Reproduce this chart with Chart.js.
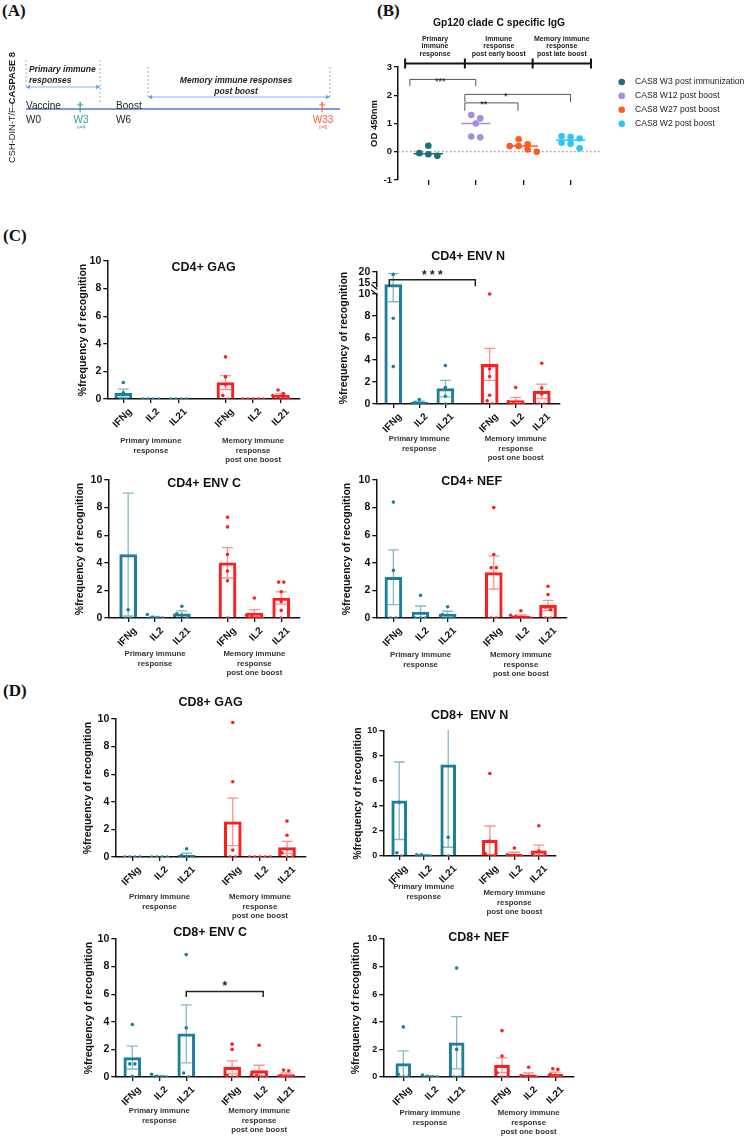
<!DOCTYPE html>
<html lang="en">
<head>
<meta charset="UTF-8">
<title>CASPASE 8 vaccine immune responses</title>
<style>
  body { margin: 0; width: 753px; height: 1138px; position: relative; overflow: hidden; background: #fff; }
  .panel { position: absolute; }
  .tag { position: absolute; font: bold 17px "Liberation Serif", "Times New Roman", serif; line-height: 1; color: #111; }
</style>
<script src="https://cdn.jsdelivr.net/npm/chart.js"></script>
</head>
<body>
<div class="tag" style="left:2px;top:2px">(A)</div>
<div class="tag" style="left:377px;top:2px">(B)</div>
<div class="tag" style="left:3px;top:227px">(C)</div>
<div class="tag" style="left:3px;top:682px">(D)</div>
<canvas id="panelA" class="panel"></canvas>
<canvas id="panelB" class="panel"></canvas>
<canvas id="cd4Gag" class="panel"></canvas>
<canvas id="cd4EnvN" class="panel"></canvas>
<canvas id="cd4EnvC" class="panel"></canvas>
<canvas id="cd4Nef" class="panel"></canvas>
<canvas id="cd8Gag" class="panel"></canvas>
<canvas id="cd8EnvN" class="panel"></canvas>
<canvas id="cd8EnvC" class="panel"></canvas>
<canvas id="cd8Nef" class="panel"></canvas>
<script>
// ---------- (A) timeline ----------
const timelineWeeks = [0, 3, 6, 33];
const timelineAbove = ['Vaccine', '†', 'Boost', '†'];
const timelineBelow = ['W0', 'W3', 'W6', 'W33'];
const timelineN = ['', 'n=4', '', 'n=6'];
const timelineColors = ['#222', '#27a399', '#222', '#ff5a36'];
const phaseNames = [['Primary immune', 'responses'], ['Memory immune responses', 'post boost']];
const phaseStart = [0, 10.2];
const phaseEnd = [4.67, 34.05];

// ---------- (B) Gp120 IgG ----------
const igGroups = ['CAS8 W3 post immunization', 'CAS8 W12 post boost', 'CAS8 W27 post boost', 'CAS8 W2 post boost'];
const igValues = [
  [0.21, -0.05, -0.09, -0.14],
  [1.3, 1.18, 1.0, 0.54, 0.51],
  [0.44, 0.26, 0.2, 0.2, 0.08, 0.0],
  [0.55, 0.52, 0.47, 0.32, 0.28, 0.12]
];
const igMedians = [-0.07, 1.0, 0.2, 0.41];
const igYTicks = [-1, 0, 1, 2, 3];
const igHeaders = [['Primary', 'immune', 'response'], ['Immune', 'response', 'post early boost'], ['Memory immune', 'response', 'post late boost']];
const igBrackets = [
  { from: -0.39, to: 1.0, y: 2.56, drop: 2.32, label: '***', at: 0.25 },
  { from: 0.77, to: 3.0, y: 2.03, drop: 1.76, label: '*', at: 1.63 },
  { from: 0.77, to: 1.89, y: 1.73, drop: 1.45, label: '**', at: 1.17 }
];

// ---------- (C)/(D) T cell recognition ----------
const cytokines = ['IFNg', 'IL2', 'IL21', 'IFNg', 'IL2', 'IL21'];
const responseGroups = [['Primary immune', 'response'], ['Memory immune', 'response', 'post one boost']];
const yTicks = [0, 2, 4, 6, 8, 10];
const envNTicks = [0, 2, 4, 6, 8, 10, 15, 20];

const cd4GagMean = [0.41, 0, 0, 1.19, 0, 0.27];
const cd4GagSem = [0.3, 0, 0, 0.5, 0, 0.1];
const cd4GagPoints = [[1.2, 0.45, 0, 0], [0, 0, 0, 0], [0, 0, 0, 0], [3.05, 1.6, 1.05, 0.25, 0], [0, 0, 0, 0, 0], [0.65, 0.4, 0.25, 0.15, 0.1, 0.05]];

const cd4EnvNMean = [14.3, 0.15, 1.4, 3.6, 0.3, 1.15];
const cd4EnvNSem = [5.0, 0.1, 0.75, 1.45, 0.3, 0.65];
const cd4EnvNPoints = [[18.9, 7.8, 3.4], [0.4, 0.1, 0, 0], [3.5, 1.5, 0.7, 0], [10, 3.2, 2.5, 0.8, 0.3, 0], [1.5, 0.2, 0.1, 0, 0], [3.7, 1.45, 0.9, 0, 0]];
const cd4EnvNBracket = { from: -0.15, to: 3.15, y: 16.5, drop: 13.5, label: '* * *' };

const cd4EnvCMean = [4.6, 0.05, 0.3, 4.0, 0.36, 1.45];
const cd4EnvCSem = [4.45, 0.06, 0.22, 1.1, 0.25, 0.45];
const cd4EnvCPoints = [[0.6, 0, 0], [0.25, 0.05, 0, 0], [0.85, 0.3, 0.2, 0], [7.3, 6.6, 4.6, 3.4, 2.7, 0], [1.45, 0.2, 0.1, 0, 0], [2.6, 2.6, 1.9, 1.2, 0.55, 0]];

const cd4NefMean = [2.95, 0.43, 0.29, 3.3, 0.15, 0.91];
const cd4NefSem = [1.98, 0.44, 0.2, 1.2, 0.08, 0.37];
const cd4NefPoints = [[8.4, 3.45, 0, 0], [1.64, 0, 0, 0], [0.82, 0.25, 0, 0], [8.0, 4.6, 3.65, 3.65, 0, 0], [0.53, 0.2, 0.1, 0, 0, 0], [2.3, 1.7, 0.8, 0.6, 0, 0]];

const cd8GagMean = [0, 0, 0.12, 2.55, 0, 0.68];
const cd8GagSem = [0, 0, 0.15, 1.72, 0, 0.45];
const cd8GagPoints = [[0, 0, 0, 0], [0, 0, 0, 0], [0.6, 0.1, 0, 0], [9.75, 5.45, 0.5, 0, 0], [0, 0, 0, 0, 0], [2.6, 1.58, 0.3, 0, 0]];

const cd8EnvNMean = [4.42, 0.05, 7.3, 1.25, 0.15, 0.42];
const cd8EnvNSem = [3.1, 0.05, 6.6, 1.15, 0.15, 0.45];
const cd8EnvNPoints = [[4.3, 0.26, 0], [0.1, 0.1, 0, 0], [1.5, 0], [6.6, 1.2, 0.2, 0, 0], [0.64, 0.1, 0, 0, 0], [2.42, 0.4, 0, 0, 0]];

const cd8EnvCMean = [1.41, 0.05, 3.13, 0.7, 0.46, 0.17];
const cd8EnvCSem = [0.83, 0.05, 2.1, 0.47, 0.39, 0.13];
const cd8EnvCPoints = [[3.8, 0.95, 0.95, 0.05], [0.2, 0.05, 0, 0], [8.87, 3.56, 0.29, 0], [2.38, 2.0, 0.1, 0, 0], [2.3, 0.15, 0.1, 0, 0], [0.5, 0.45, 0.1, 0, 0]];
const cd8EnvCBracket = { from: 2, to: 4.85, y: 6.2, drop: 5.8, label: '*' };

const cd8NefMean = [0.97, 0.05, 2.48, 0.85, 0.15, 0.2];
const cd8NefSem = [0.93, 0.05, 1.89, 0.53, 0.15, 0.15];
const cd8NefPoints = [[3.63, 0.2, 0, 0], [0.15, 0.05, 0, 0], [7.89, 2.0, 0, 0], [3.36, 1.52, 0.3, 0, 0], [0.71, 0.1, 0, 0, 0], [0.6, 0.55, 0.2, 0, 0]];

// ---------- styling / layout ----------
const FONT = "'Liberation Sans', Arial, sans-serif";
const teal = '#1d7f9b', tealSoft = 'rgba(29,127,155,0.55)';
const red = '#ff1e1e', redSoft = 'rgba(255,30,30,0.5)';
const igColors = ['#1a6f79', '#a58ee0', '#ff5b1e', '#2bc6f4'];
const slotX = [0, 1, 2, 3.7, 4.7, 5.7];
const igHeaderEdges = [-0.49, 0.77, 2.2, 3.43];

Chart.defaults.font.family = FONT;
Chart.defaults.color = '#111';
Chart.defaults.animation = false;
Chart.defaults.events = [];
Chart.defaults.plugins.legend.display = false;
Chart.defaults.plugins.tooltip.enabled = false;

// linear scale with piecewise value -> position mapping (broken axis, schematic timeline)
class PiecewiseScale extends Chart.LinearScale {
  _toDecimal(v) {
    const s = this.options.stops;
    let i = 1;
    while (i < s.length - 1 && v > s[i][0]) i++;
    const [v0, d0] = s[i - 1], [v1, d1] = s[i];
    return d0 + (v - v0) * (d1 - d0) / (v1 - v0);
  }
  getPixelForValue(v) {
    return v === null ? NaN : this.getPixelForDecimal(this._toDecimal(v));
  }
  getValueForPixel(p) {
    const d = this.getDecimalForPixel(p), s = this.options.stops;
    let i = 1;
    while (i < s.length - 1 && d > s[i][1]) i++;
    const [v0, d0] = s[i - 1], [v1, d1] = s[i];
    return v0 + (d - d0) * (v1 - v0) / (d1 - d0);
  }
}
PiecewiseScale.id = 'piecewise';
PiecewiseScale.defaults = Chart.LinearScale.defaults;
Chart.register(PiecewiseScale);

function place(id, area, pad) {
  const c = document.getElementById(id);
  const [l, t, r, b] = area;
  const w = Math.round(r - l + pad.left + pad.right);
  const h = Math.round(b - t + pad.top + pad.bottom);
  c.width = w; c.height = h;
  c.style.left = (l - pad.left) + 'px';
  c.style.top = (t - pad.top) + 'px';
  c.style.width = w + 'px';
  c.style.height = h + 'px';
  return c;
}

// spread points of similar value side by side, like a column scatter
function swarm(values, tol, step) {
  const order = values.map((v, i) => i).sort((a, b) => values[b] - values[a]);
  const offs = new Array(values.length).fill(0);
  let row = [];
  const flush = () => { row.forEach((idx, j) => { offs[idx] = (j - (row.length - 1) / 2) * step; }); row = []; };
  order.forEach(i => {
    if (row.length && values[row[0]] - values[i] > tol) flush();
    row.push(i);
  });
  flush();
  return offs;
}

// ---------- (A) ----------
const timelinePlugin = {
  id: 'timelineText',
  afterDraw(chart) {
    if (chart.canvas.id !== 'panelA') return;
    const { ctx, scales: { x, y } } = chart;
    const y0 = y.getPixelForValue(0);
    ctx.save();
    ctx.translate(12, y0 + 54);
    ctx.rotate(-Math.PI / 2);
    ctx.textBaseline = 'middle';
    ctx.textAlign = 'left';
    ctx.fillStyle = '#222';
    ctx.font = `9.3px ${FONT}`;
    ctx.fillText('CSH-DIN-T/F-', 0, 0);
    const w = ctx.measureText('CSH-DIN-T/F-').width;
    ctx.font = `bold 9.3px ${FONT}`;
    ctx.fillText('CASPASE 8', w, 0);
    ctx.restore();

    ctx.save();
    const rise = [22, 12], dashTop = [49, 42];
    phaseStart.forEach((s, k) => {
      const xa = x.getPixelForValue(s), xb = x.getPixelForValue(phaseEnd[k]), ya = y0 - rise[k];
      ctx.strokeStyle = '#8db3e2';
      ctx.lineWidth = 1;
      ctx.setLineDash([2, 2]);
      ctx.beginPath();
      ctx.moveTo(xa, y0 - dashTop[k]); ctx.lineTo(xa, ya);
      ctx.moveTo(xb, y0 - dashTop[k]); ctx.lineTo(xb, k === 0 ? y0 - 7 : ya);
      ctx.stroke();
      ctx.setLineDash([]);
      ctx.beginPath(); ctx.moveTo(xa, ya); ctx.lineTo(xb, ya); ctx.stroke();
      ctx.fillStyle = '#6f9fd8';
      [[xa, 1], [xb, -1]].forEach(([hx, d]) => {
        ctx.beginPath();
        ctx.moveTo(hx, ya); ctx.lineTo(hx + 4 * d, ya - 2.2); ctx.lineTo(hx + 4 * d, ya + 2.2);
        ctx.closePath(); ctx.fill();
      });
      ctx.fillStyle = '#222';
      ctx.font = `italic bold 8.5px ${FONT}`;
      ctx.textBaseline = 'alphabetic';
      phaseNames[k].forEach((t, j) => {
        if (k === 0) { ctx.textAlign = 'left'; ctx.fillText(t, xa + 3, y0 - 37.5 + j * 11.5); }
        else { ctx.textAlign = 'center'; ctx.fillText(t, (xa + xb) / 2 - 3, y0 - 26.5 + j * 11); }
      });
    });

    ctx.textBaseline = 'alphabetic';
    timelineWeeks.forEach((wk, i) => {
      const px = x.getPixelForValue(wk);
      const dagger = timelineAbove[i] === '†';
      ctx.fillStyle = timelineColors[i];
      ctx.textAlign = dagger ? 'center' : 'left';
      ctx.font = dagger ? `bold 13px ${FONT}` : `10px ${FONT}`;
      ctx.fillText(timelineAbove[i], px, dagger ? y0 + 2 : y0 - 0.5);
      ctx.font = `10px ${FONT}`;
      ctx.fillText(timelineBelow[i], dagger ? px + 1 : px, y0 + 14);
      if (timelineN[i]) {
        ctx.font = `5px ${FONT}`;
        ctx.fillText(timelineN[i], px + 1, y0 + 19.5);
      }
    });
    ctx.restore();
  }
};

new Chart(place('panelA', [26, 49, 340, 169], { left: 26, top: 9, right: 20, bottom: 11 }), {
  type: 'line',
  data: { datasets: [{ data: [{ x: 0, y: 0 }, { x: 35.4, y: 0 }], borderColor: '#4f7ac7', borderWidth: 1.6, pointRadius: 0 }] },
  options: {
    responsive: false,
    layout: { padding: { left: 26, top: 9, right: 20, bottom: 11 } },
    scales: {
      x: { type: 'piecewise', display: false, min: 0, max: 35.4, stops: [[0, 0], [3, 0.172], [6, 0.287], [33, 0.943], [35.4, 1]] },
      y: { display: false, min: -1, max: 1 }
    }
  },
  plugins: [timelinePlugin]
});

// ---------- (B) ----------
const igPlugin = {
  id: 'igText',
  afterDraw(chart) {
    if (chart.canvas.id !== 'panelB') return;
    const { ctx, chartArea: a, scales: { x, y } } = chart;
    ctx.save();
    ctx.fillStyle = '#111';
    ctx.textAlign = 'center';
    ctx.textBaseline = 'middle';
    ctx.font = `bold 10.3px ${FONT}`;
    ctx.fillText('Gp120 clade C specific IgG', (a.left + a.right) / 2, a.top - 44);

    const hy = a.top - 3.5;
    ctx.strokeStyle = '#111';
    ctx.lineWidth = 2;
    ctx.beginPath();
    ctx.moveTo(x.getPixelForValue(igHeaderEdges[0]), hy);
    ctx.lineTo(x.getPixelForValue(igHeaderEdges[igHeaderEdges.length - 1]), hy);
    igHeaderEdges.forEach(e => { const px = x.getPixelForValue(e); ctx.moveTo(px, hy - 5); ctx.lineTo(px, hy + 5); });
    ctx.stroke();
    ctx.font = `bold 7px ${FONT}`;
    ctx.fillStyle = '#222';
    igHeaders.forEach((lines, k) => {
      const cx = (x.getPixelForValue(igHeaderEdges[k]) + x.getPixelForValue(igHeaderEdges[k + 1])) / 2;
      lines.forEach((t, j) => ctx.fillText(t, cx, a.top - 28 + j * 7.5));
    });

    ctx.strokeStyle = '#555';
    ctx.lineWidth = 1;
    igBrackets.forEach(b => {
      const x1 = x.getPixelForValue(b.from), x2 = x.getPixelForValue(b.to);
      const yl = y.getPixelForValue(b.y), yd = y.getPixelForValue(b.drop);
      ctx.beginPath();
      ctx.moveTo(x1, yd); ctx.lineTo(x1, yl); ctx.lineTo(x2, yl); ctx.lineTo(x2, yd);
      ctx.stroke();
      ctx.fillStyle = '#333';
      ctx.font = `bold 9px ${FONT}`;
      ctx.textBaseline = 'alphabetic';
      ctx.fillText(b.label, x.getPixelForValue(b.at), yl + 4.5);
    });

    ctx.textAlign = 'left';
    ctx.textBaseline = 'middle';
    ctx.font = `8.6px ${FONT}`;
    igGroups.forEach((name, g) => {
      const ly = a.top + 15 + g * 13.9;
      ctx.fillStyle = igColors[g];
      ctx.beginPath(); ctx.arc(a.right + 21.7, ly, 3.3, 0, Math.PI * 2); ctx.fill();
      ctx.fillStyle = '#222';
      ctx.fillText(name, a.right + 35, ly);
    });
    ctx.restore();
  }
};

const igDatasets = igValues.map((vals, g) => {
  const offs = swarm(vals, 0.23, 0.19);
  return { type: 'scatter', data: vals.map((v, j) => ({ x: g + offs[j], y: v })), backgroundColor: igColors[g], borderWidth: 0, pointRadius: 3.3, order: 1 };
});
igMedians.forEach((m, g) => igDatasets.push({
  type: 'line', data: [{ x: g - 0.31, y: m }, { x: g + 0.31, y: m }], borderColor: igColors[g], borderWidth: 1.5, pointRadius: 0, order: 0
}));
igDatasets.push({ type: 'line', data: [{ x: -0.64, y: 0 }, { x: 3.62, y: 0 }], borderColor: '#777', borderDash: [1.5, 2.5], borderWidth: 1.2, pointRadius: 0, order: 2 });

new Chart(place('panelB', [398, 67, 600, 180], { left: 33, top: 67, right: 153, bottom: 20 }), {
  type: 'scatter',
  data: { datasets: igDatasets },
  options: {
    responsive: false,
    layout: { padding: { left: 0, top: 67, right: 153, bottom: 0 } },
    scales: {
      x: {
        type: 'linear', min: -0.64, max: 3.62,
        afterBuildTicks: s => { s.ticks = igGroups.map((_, g) => ({ value: g })); },
        afterFit: s => { s.height = 20; s.paddingLeft = s.paddingRight = 0; },
        ticks: { display: false },
        grid: { drawOnChartArea: false, drawTicks: true, tickLength: 5, color: '#111', lineWidth: 1.3 },
        border: { display: false }
      },
      y: {
        min: -1, max: 3,
        afterBuildTicks: s => { s.ticks = igYTicks.map(v => ({ value: v })); },
        afterFit: s => { s.width = 33; s.paddingTop = s.paddingBottom = 0; },
        ticks: { font: { size: 9.5, weight: 'bold' }, color: '#111', padding: 2 },
        grid: { drawOnChartArea: false, drawTicks: true, tickLength: 4, color: '#111', lineWidth: 1.3 },
        border: { display: true, color: '#111', width: 1.5 },
        title: { display: true, text: 'OD 450nm', font: { size: 9.5, weight: 'bold' }, color: '#111', padding: { top: 4, bottom: 4 } }
      }
    }
  },
  plugins: [igPlugin]
});

// ---------- (C)/(D) ----------
const decor = {};
const recognitionPlugin = {
  id: 'recognitionDecor',
  afterDatasetsDraw(chart) {
    const p = decor[chart.canvas.id];
    if (!p) return;
    const { ctx, chartArea: a, scales: { x, y } } = chart;
    ctx.save();
    ctx.beginPath();
    ctx.rect(a.left, a.top - 1, a.right - a.left, a.bottom - a.top + 1);
    ctx.clip();
    ctx.lineWidth = 1.3;
    p.mean.forEach((m, i) => {
      const s = p.sem[i];
      if (!s) return;
      const px = x.getPixelForValue(slotX[i]);
      const hi = y.getPixelForValue(m + s), lo = y.getPixelForValue(Math.max(m - s, 0));
      ctx.strokeStyle = i < 3 ? tealSoft : redSoft;
      ctx.beginPath();
      ctx.moveTo(px, hi); ctx.lineTo(px, lo);
      ctx.moveTo(px - 5.5, hi); ctx.lineTo(px + 5.5, hi);
      if (m - s > 0) { ctx.moveTo(px - 5.5, lo); ctx.lineTo(px + 5.5, lo); }
      ctx.stroke();
    });
    ctx.restore();
  },
  afterDraw(chart) {
    const p = decor[chart.canvas.id];
    if (!p) return;
    const { ctx, chartArea: a, scales: { x, y } } = chart;
    ctx.save();
    ctx.fillStyle = '#111';
    ctx.textAlign = 'center';
    ctx.textBaseline = 'middle';
    ctx.font = `bold 12.5px ${FONT}`;
    ctx.fillText(p.title, (a.left + a.right) / 2, a.top + p.titleDy);

    ctx.font = `bold 7.8px ${FONT}`;
    ctx.fillStyle = '#333';
    responseGroups.forEach((lines, g) => {
      const cx = (x.getPixelForValue(slotX[g * 3]) + x.getPixelForValue(slotX[g * 3 + 2])) / 2;
      lines.forEach((t, k) => ctx.fillText(t, cx, a.bottom + p.groupDy[g] + k * 9.6));
    });

    if (p.bracket) {
      const b = p.bracket;
      const x1 = x.getPixelForValue(b.from), x2 = x.getPixelForValue(b.to);
      const yl = y.getPixelForValue(b.y), yd = y.getPixelForValue(b.drop);
      ctx.strokeStyle = '#222';
      ctx.lineWidth = 1.5;
      ctx.beginPath();
      ctx.moveTo(x1, yd); ctx.lineTo(x1, yl); ctx.lineTo(x2, yl); ctx.lineTo(x2, yd);
      ctx.stroke();
      ctx.fillStyle = '#222';
      ctx.font = `bold 12px ${FONT}`;
      ctx.textBaseline = 'alphabetic';
      ctx.fillText(b.label, (x1 + x2) / 2, yl - 1);
    }

    if (p.broken) {
      const y10 = y.getPixelForValue(10), y13 = y.getPixelForValue(13);
      ctx.fillStyle = '#fff';
      ctx.fillRect(a.left - 1.5, y13, 3, y10 - y13 - 1);
      ctx.strokeStyle = '#111';
      ctx.lineWidth = 1.2;
      ctx.beginPath();
      [y10 - 1, y13].forEach(yy => { ctx.moveTo(a.left - 5, yy - 3); ctx.lineTo(a.left + 1, yy + 2); });
      ctx.stroke();
    }
    ctx.restore();
  }
};
Chart.register(recognitionPlugin);

const barPanels = [
  { id: 'cd4Gag', title: 'CD4+ GAG', mean: cd4GagMean, sem: cd4GagSem, points: cd4GagPoints,
    area: [107, 261, 300, 399], xMin: -0.58, yTitleGap: 24, titleDy: 7, groupDy: [42, 42], barW: 17 },
  { id: 'cd4EnvN', title: 'CD4+ ENV N', mean: cd4EnvNMean, sem: cd4EnvNSem, points: cd4EnvNPoints,
    area: [376, 272, 560, 404], xMin: -0.65, yTitleGap: 32, titleDy: -15, groupDy: [35, 35], barW: 17,
    broken: true, bracket: cd4EnvNBracket },
  { id: 'cd4EnvC', title: 'CD4+ ENV C', mean: cd4EnvCMean, sem: cd4EnvCSem, points: cd4EnvCPoints,
    area: [108, 480, 300, 618], xMin: -0.74, yTitleGap: 28, titleDy: 4, groupDy: [36, 36], barW: 17 },
  { id: 'cd4Nef', title: 'CD4+ NEF', mean: cd4NefMean, sem: cd4NefSem, points: cd4NefPoints,
    area: [376, 480, 567, 618], xMin: -0.63, yTitleGap: 29, titleDy: 2, groupDy: [37, 37], barW: 17 },
  { id: 'cd8Gag', title: 'CD8+ GAG', mean: cd8GagMean, sem: cd8GagSem, points: cd8GagPoints,
    area: [115, 719, 306, 857], xMin: -0.63, yTitleGap: 27, titleDy: -16, groupDy: [40, 40], barW: 17 },
  { id: 'cd8EnvN', title: 'CD8+  ENV N', mean: cd8EnvNMean, sem: cd8EnvNSem, points: cd8EnvNPoints,
    area: [383, 731, 556, 856], xMin: -0.65, yTitleGap: 25, titleDy: -15, groupDy: [31, 37], barW: 15, small: true },
  { id: 'cd8EnvC', title: 'CD8+ ENV C', mean: cd8EnvCMean, sem: cd8EnvCSem, points: cd8EnvCPoints,
    area: [115, 939, 305, 1077], xMin: -0.63, yTitleGap: 26, titleDy: -6, groupDy: [34, 34], barW: 17,
    bracket: cd8EnvCBracket },
  { id: 'cd8Nef', title: 'CD8+ NEF', mean: cd8NefMean, sem: cd8NefSem, points: cd8NefPoints,
    area: [383, 939, 574, 1077], xMin: -0.75, yTitleGap: 27, titleDy: -1, groupDy: [36, 36], barW: 15, small: true }
];

barPanels.forEach(p => {
  const pad = { left: p.yTitleGap + 10.3, top: Math.max(20, 14 - p.titleDy), right: 12, bottom: 74 };
  decor[p.id] = p;
  const pts = [[], []];
  p.points.forEach((vals, i) => {
    const offs = swarm(vals, 0.3, 0.19);
    vals.forEach((v, j) => pts[i < 3 ? 0 : 1].push({ x: slotX[i] + offs[j], y: v }));
  });
  new Chart(place(p.id, p.area, pad), {
    type: 'bar',
    data: {
      datasets: [
        { type: 'scatter', data: pts[0], backgroundColor: teal, borderWidth: 0, pointRadius: 1.8, order: 1 },
        { type: 'scatter', data: pts[1], backgroundColor: red, borderWidth: 0, pointRadius: 1.8, order: 1 },
        { type: 'bar', data: p.mean.map((m, i) => ({ x: slotX[i], y: m })),
          borderColor: slotX.map((_, i) => i < 3 ? teal : red), backgroundColor: 'rgba(255,255,255,0)',
          borderWidth: 2.4, barThickness: p.barW, order: 2 }
      ]
    },
    options: {
      responsive: false,
      layout: { padding: { left: 0, top: pad.top, right: pad.right, bottom: 0 } },
      scales: {
        x: {
          type: 'linear', min: p.xMin, max: 6.4, offset: false,
          afterBuildTicks: s => { s.ticks = slotX.map(v => ({ value: v })); },
          afterFit: s => { s.height = pad.bottom; s.paddingLeft = s.paddingRight = 0; },
          ticks: { callback: (v, i) => cytokines[i], minRotation: 45, maxRotation: 45, autoSkip: false,
                   labelOffset: 7, font: { size: 10, weight: 'bold' }, color: '#111', padding: 3 },
          grid: { offset: false, drawOnChartArea: false, drawTicks: true, tickLength: 4, color: '#111', lineWidth: 1.3 },
          border: { display: true, color: '#111', width: 1.5 }
        },
        y: {
          type: p.broken ? 'piecewise' : 'linear',
          min: 0, max: p.broken ? 20 : 10,
          stops: [[0, 0], [10, 0.833], [20, 1]],
          afterBuildTicks: s => { s.ticks = (p.broken ? envNTicks : yTicks).map(v => ({ value: v })); },
          afterFit: s => { s.width = pad.left; s.paddingTop = s.paddingBottom = 0; },
          ticks: { font: { size: p.small ? 9 : 10.5, weight: 'bold' }, color: '#111', padding: 2, autoSkip: false },
          grid: { drawOnChartArea: false, drawTicks: true, tickLength: 4, color: '#111', lineWidth: 1.3 },
          border: { display: true, color: '#111', width: 1.5 },
          title: { display: true, text: '%frequency of recognition', font: { size: 10.5, weight: 'bold' },
                   color: '#111', padding: { top: 4, bottom: 4 } }
        }
      }
    }
  });
});
</script>
</body>
</html>
